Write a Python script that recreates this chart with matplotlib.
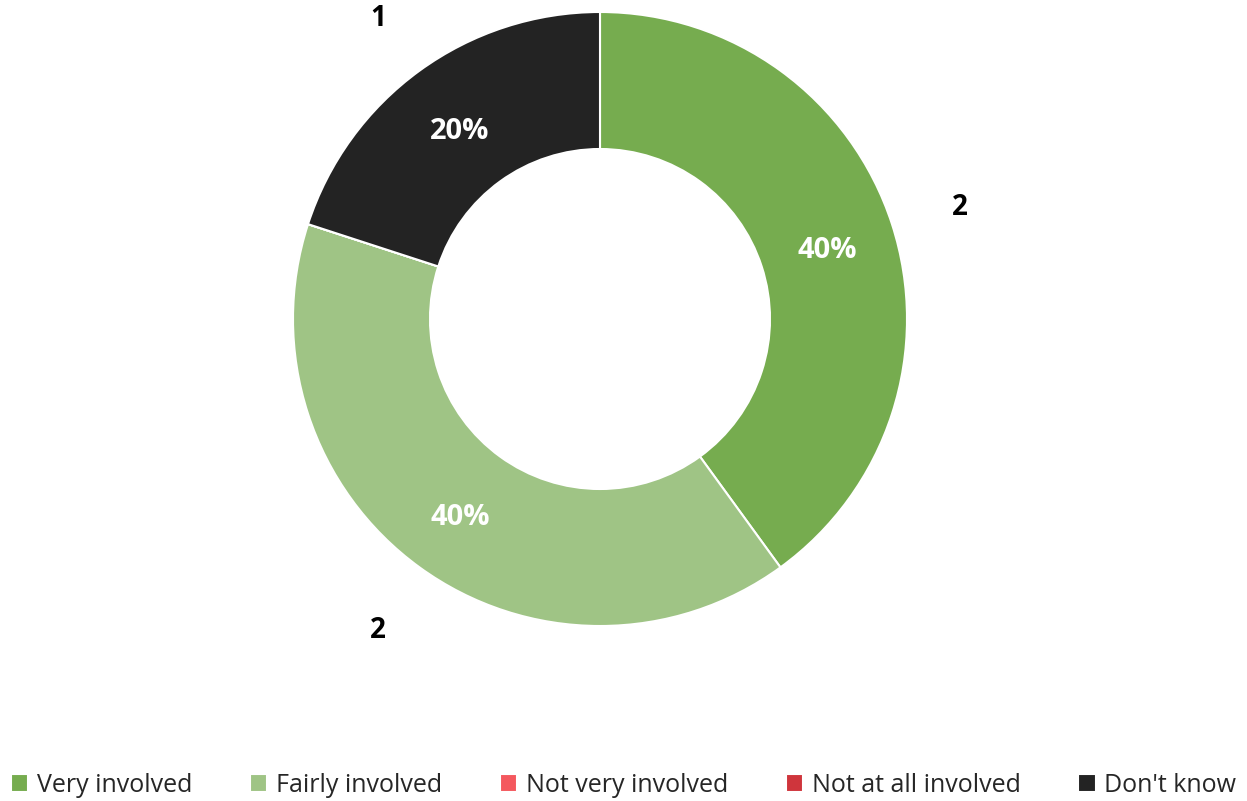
import numpy as np
import matplotlib.pyplot as plt

categories = ['Very involved', 'Fairly involved', 'Not very involved',
              'Not at all involved', "Don't know"]
counts = [2, 2, 0, 0, 1]
colors = ['#76ac4f', '#9fc485', '#f4585e', '#cf353c', '#232323']

plt.rcParams['font.family'] = ['Open Sans', 'DejaVu Sans']

fig = plt.figure(figsize=(12.47, 8.01), dpi=100)
ax = fig.add_axes([0, 0, 1, 1])

cx, cy = 600, 801 - 319
r_out, r_in = 307, 170
wedges, _ = ax.pie(counts, colors=colors, startangle=90, counterclock=False,
                   center=(cx, cy), radius=r_out, frame=True,
                   wedgeprops=dict(width=r_out - r_in, edgecolor='white',
                                   linewidth=1.5))
ax.set_xlim(0, 1247)
ax.set_ylim(0, 801)
ax.set_aspect('equal')
ax.axis('off')

# value and percentage labels, only for the non-empty slices
total = sum(counts)
for w, c in zip(wedges, counts):
    if c == 0:
        continue
    ang = np.deg2rad((w.theta1 + w.theta2) / 2)
    rm = (r_out + r_in) / 2
    ax.text(cx + rm * np.cos(ang), cy + rm * np.sin(ang) - 2,
            '{:.0f}%'.format(100 * c / total), color='white',
            fontsize=21, fontweight='bold', ha='center',
            va='center_baseline')
    ro = 378
    ax.text(cx + ro * np.cos(ang), cy + ro * np.sin(ang) - 2, str(c),
            color='black', fontsize=20, fontweight='bold',
            ha='center', va='center_baseline')

ax.legend(wedges, categories, loc='center', bbox_to_anchor=(0.5, 16 / 801),
          bbox_transform=fig.transFigure, ncol=5, frameon=False,
          fontsize=18, handlelength=0.7, handleheight=0.7,
          handletextpad=0.35, columnspacing=2.3, labelcolor='#262626')

fig.savefig('out.png', dpi=100)
